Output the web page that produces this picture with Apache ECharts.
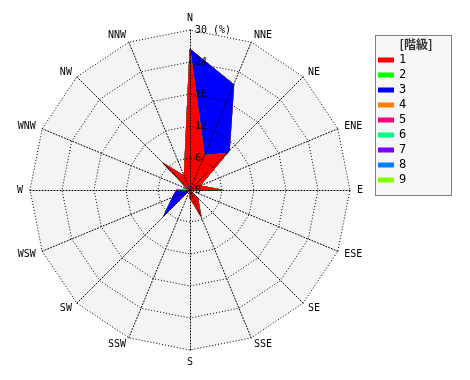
<!DOCTYPE html>
<html><head><meta charset="utf-8">
<script src="https://cdn.jsdelivr.net/npm/echarts@6/dist/echarts.min.js"></script>
<style>html,body{margin:0;padding:0;background:#fff}#c{width:470px;height:380px}</style>
</head><body><div id="c"></div>
<script>
// Wind directions, clockwise from north
const directions = ['N','NNE','NE','ENE','E','ESE','SE','SSE','S','SSW','SW','WSW','W','WNW','NW','NNW'];
const classNames = ['1','2','3','4','5','6','7','8','9'];
const classColors = ['#ff0000','#00ff00','#0000ff','#ff8000','#ff0080','#00ff80','#8000ff','#0080ff','#80ff00'];
// Frequency (%) per class, per direction (clockwise from N)
const class1 = [26.2, 7.0, 9.7, 2.0, 6.0, 0, 2.0, 5.3, 1.5, 0, 7.0, 0, 0, 0.5, 7.1, 2.8];
const class2 = [0, 0, 0, 0, 0, 0, 0, 0, 0, 0, 0, 0, 2.5, 0, 0, 0];
const class3 = [0.2, 14.4, 0.7, 0, 0, 0, 0, 0, 0, 0, 0, 3.5, 0, 0, 0, 0];
const class4 = [0, 0, 0, 0, 0, 0, 0, 0, 0, 0, 0, 0, 0, 0, 0, 0];
const class5 = [0, 0, 0, 0, 0, 0, 0, 0, 0, 0, 0, 0, 0, 0, 0, 0];
const class6 = [0, 0, 0, 0, 0, 0, 0, 0, 0, 0, 0, 0, 0, 0, 0, 0];
const class7 = [0, 0, 0, 0, 0, 0, 0, 0, 0, 0, 0, 0, 0, 0, 0, 0];
const class8 = [0, 0, 0, 0, 0, 0, 0, 0, 0, 0, 0, 0, 0, 0, 0, 0];
const class9 = [0, 0, 0, 0, 0, 0, 0, 0, 0, 0, 0, 0, 0, 0, 0, 0];
const radiusTicks = [0, 6, 12, 18, 24, 30];
const radiusUnit = '(%)';

const classes = [class1, class2, class3, class4, class5, class6, class7, class8, class9];
// cumulative (stacked) values
const cumulative = [];
classes.forEach((arr, i) => {
  cumulative.push(arr.map((v, j) => v + (i > 0 ? cumulative[i - 1][j] : 0)));
});
// radar places indicators counter-clockwise; reorder so they go clockwise
const order = directions.map((d, i) => (16 - i) % 16);
const maxV = radiusTicks[radiusTicks.length - 1];
const font = 'DejaVu Sans Mono';

function makeIndicators(withLabel) {
  return order.map((k, idx) => {
    const o = { name: directions[k], min: radiusTicks[0], max: maxV };
    if (withLabel && idx === 0) {
      o.axisLabel = {
        show: true, color: '#000', fontFamily: font, fontSize: 10,
        margin: -5, align: 'left', verticalAlign: 'middle', padding: [0, 0, 6, 0],
        formatter: v => (v === maxV ? v + ' ' + radiusUnit : String(v))
      };
    }
    return o;
  });
}

const baseRadar = {
  center: [190, 190],
  radius: 160,
  startAngle: 90,
  shape: 'polygon',
  splitNumber: radiusTicks.length - 1
};

const series = [];
for (let i = classes.length - 1; i >= 0; i--) {
  series.push({
    type: 'radar',
    radarIndex: 0,
    name: classNames[i],
    symbol: 'none',
    silent: true,
    z: 2 + (classes.length - i),
    lineStyle: { color: classColors[i], width: 1 },
    areaStyle: { color: classColors[i], opacity: 1 },
    itemStyle: { color: classColors[i] },
    data: [{ name: classNames[i], value: order.map(k => cumulative[i][k]) }]
  });
}

const chart = echarts.init(document.getElementById('c'), null, { renderer: 'canvas' });
chart.setOption({
  animation: false,
  backgroundColor: '#fff',
  radar: [
    Object.assign({}, baseRadar, {
      z: 0,
      indicator: makeIndicators(false),
      axisName: { show: false },
      axisLine: { show: false },
      splitLine: { show: false },
      splitArea: { show: true, areaStyle: { color: ['#f4f4f4'] } },
      axisTick: { show: false },
      axisLabel: { show: false }
    }),
    Object.assign({}, baseRadar, {
      z: 30,
      indicator: makeIndicators(true),
      axisName: { color: '#000', fontFamily: font, fontSize: 10 },
      nameGap: 7,
      axisLine: { show: true, lineStyle: { color: '#000', type: [1, 2], width: 1 } },
      splitLine: { show: true, lineStyle: { color: '#000', type: [1, 2], width: 1 } },
      splitArea: { show: false },
      axisTick: { show: false },
      axisLabel: { show: false }
    })
  ],
  graphic: [
    { type: 'rect', z: -1, shape: { x: 375.5, y: 35.5, width: 76, height: 160 },
      style: { fill: '#f7f7f7', stroke: '#000', lineWidth: 1, lineDash: [1, 1] } },
    { type: 'text', z: 10, x: 416, y: 38,
      style: { text: '[階級]', fill: '#333', font: 'bold 12px "Noto Sans CJK JP"', textAlign: 'center', textVerticalAlign: 'top' } }
  ],
  legend: {
    orient: 'vertical', left: 378, top: 54, padding: 0,
    itemWidth: 16, itemHeight: 5, itemGap: 3, icon: 'rect',
    data: classNames,
    textStyle: { color: '#000', fontFamily: font, fontSize: 12 },
    selectedMode: false
  },
  series: series
});
</script></body></html>
